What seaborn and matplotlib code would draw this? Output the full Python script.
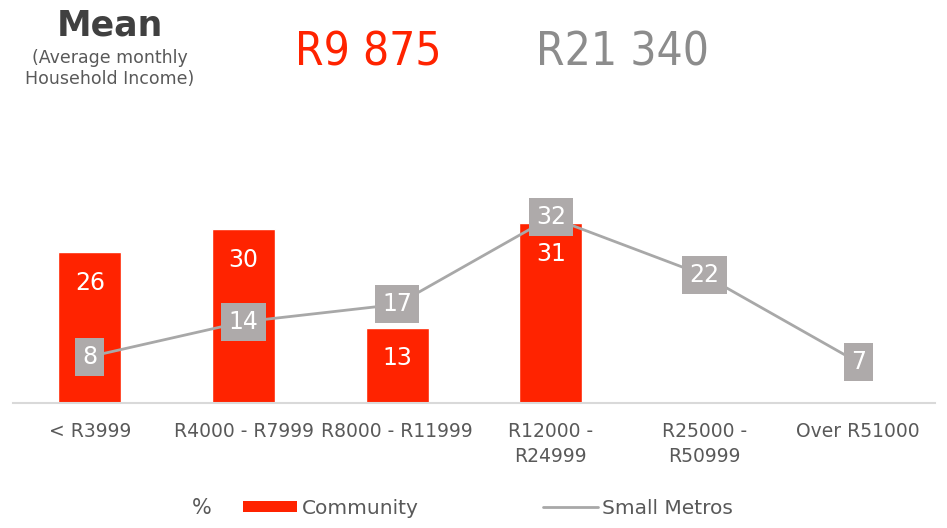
import matplotlib
matplotlib.use("Agg")
import matplotlib.pyplot as plt
from matplotlib.patches import Patch
from matplotlib.lines import Line2D
import numpy as np
import pandas as pd
import seaborn as sns

categories = ["< R3999", "R4000 - R7999", "R8000 - R11999", "R12000 -\nR24999",
              "R25000 -\nR50999", "Over R51000"]
community = [26, 30, 13, 31, 0, 0]
small_metros = [8, 14, 17, 32, 22, 7]
mean_community = "R9 875"
mean_metros = "R21 340"

RED = "#ff2300"
GREY_LINE = "#a8a8a8"
GREY_BOX = "#aeaaaa"
TEXT = "#595959"

sns.set_style("white")
plt.rcParams["font.family"] = ["DejaVu Sans"]

fig = plt.figure(figsize=(9.47, 5.28), dpi=100)
ax = fig.add_axes([13 / 947, 125 / 528, 922 / 947, 203 / 528])

df = pd.DataFrame({"Income": categories, "Community": community, "Small Metros": small_metros})
sns.barplot(data=df, x="Income", y="Community", color=RED, width=0.41, saturation=1, ax=ax)
pos = np.arange(len(categories))
sns.lineplot(x=pos, y=df["Small Metros"], color=GREY_LINE, linewidth=2, ax=ax)

# value labels: white inside the bars, grey boxes on the line
for i, v in enumerate(community):
    if v > 0:
        ax.text(i, v - 5.3, str(v), ha="center", va="center", color="white", fontsize=17)
for i, v in enumerate(small_metros):
    ax.text(i, v, str(v), ha="center", va="center", color="white", fontsize=17, zorder=5,
            bbox=dict(boxstyle="square,pad=0.3", fc=GREY_BOX, ec="none"))

ax.set_xlim(-0.5, len(categories) - 0.5)
ax.set_ylim(0, 35)
ax.set_xlabel("")
ax.set_ylabel("")
ax.set_yticks([])
for s in ["top", "right", "left"]:
    ax.spines[s].set_visible(False)
ax.spines["bottom"].set_color("#d9d9d9")
ax.spines["bottom"].set_linewidth(1.5)
ax.tick_params(axis="x", length=0, pad=14, labelsize=13.5, labelcolor=TEXT)
for lab in ax.get_xticklabels():
    lab.set_linespacing(1.35)

fig.text(110 / 947, 1 - 35 / 528, "Mean", ha="center", va="baseline", fontsize=25,
         fontweight="bold", color="#404040")
fig.text(110 / 947, 1 - 63 / 528, "(Average monthly", ha="center", va="baseline",
         fontsize=12.5, color=TEXT)
fig.text(110 / 947, 1 - 84 / 528, "Household Income)", ha="center", va="baseline",
         fontsize=12.5, color=TEXT)
fig.text(368 / 947, 1 - 66 / 528, mean_community, ha="center", va="baseline", fontsize=33,
         color=RED, fontstretch="condensed")
fig.text(622 / 947, 1 - 66 / 528, mean_metros, ha="center", va="baseline", fontsize=33,
         color="#8c8c8c", fontstretch="condensed")

fig.text(202 / 947, 1 - 508 / 528, "%", ha="center", va="center", fontsize=15, color=TEXT)
handles = [Patch(facecolor=RED, edgecolor="none"),
           Line2D([0], [0], color=GREY_LINE, linewidth=2)]
fig.legend(handles, ["Community", "Small Metros"], loc="center left",
           bbox_to_anchor=(243 / 947, 1 - 508 / 528), ncol=2, frameon=False,
           fontsize=14.5, labelcolor=TEXT, handlelength=2.7, handletextpad=0.2,
           columnspacing=6.2, handleheight=0.5, borderpad=0, borderaxespad=0)

fig.savefig("out.png", dpi=100)
